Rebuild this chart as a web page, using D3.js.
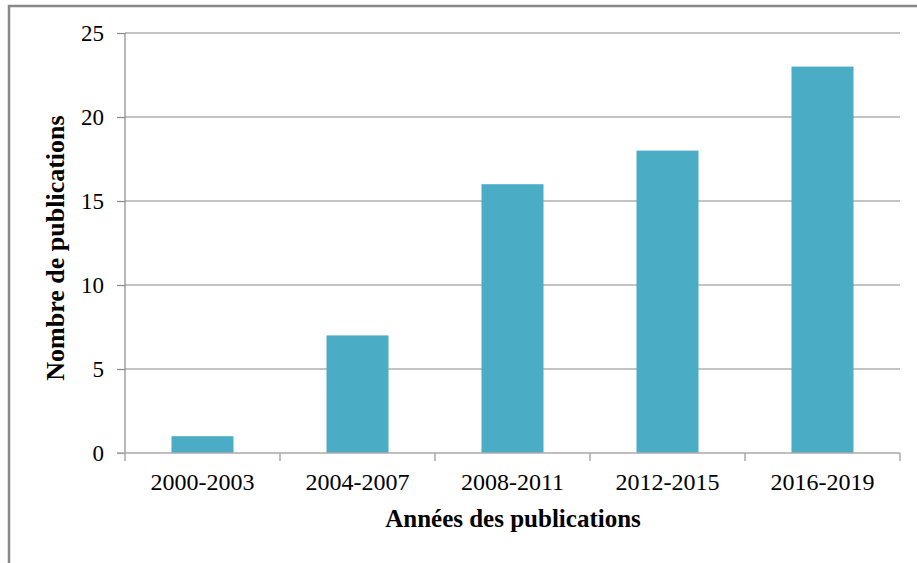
<!DOCTYPE html>
<html><head><meta charset="utf-8">
<script src="https://cdn.jsdelivr.net/npm/d3@7"></script>
<style>body{margin:0;background:#fff}svg{display:block}
svg text{font-family:"Liberation Serif","Times New Roman",Times,serif !important;}</style>
</head><body>
<script>
const categories = ["2000-2003","2004-2007","2008-2011","2012-2015","2016-2019"];
const values = [1, 7, 16, 18, 23];
const yTicks = [0, 5, 10, 15, 20, 25];
const xTitle = "Années des publications";
const yTitle = "Nombre de publications";

const W = 917, H = 563;
const m = {left:125, right:17, top:33, bottom:110};
const svg = d3.select("body").append("svg").attr("width", W).attr("height", H);
svg.append("rect").attr("width",W).attr("height",H).attr("fill","#fff");
svg.append("path").attr("d","M9,563V6H917").attr("fill","none").attr("stroke","#888").attr("stroke-width",2.5);

const x = d3.scaleBand().domain(categories).range([m.left, W - m.right]).paddingInner(0.6).paddingOuter(0.3);
const xOuter = d3.scaleBand().domain(categories).range([m.left, W - m.right]);
const y = d3.scaleLinear().domain([0,25]).range([H - m.bottom, m.top]);

svg.append("g").selectAll("line").data(yTicks.filter(d=>d>0)).join("line")
  .attr("x1", m.left).attr("x2", W - m.right)
  .attr("y1", d=>y(d)).attr("y2", d=>y(d)).attr("stroke","#888").attr("stroke-width",1.2);

const ya = svg.append("g").attr("transform",`translate(${m.left},0)`)
  .call(d3.axisLeft(y).tickValues(yTicks).tickSize(8).tickPadding(13));
ya.select(".domain").attr("stroke","#888").attr("stroke-width",1.2).attr("d",`M-0,${y(25)}V${y(0)}`);
ya.selectAll(".tick line").attr("stroke","#888").attr("stroke-width",1.2);
ya.selectAll("text").attr("font-size",23).attr("fill","#000");

svg.append("g").selectAll("rect").data(values).join("rect")
  .attr("x",(d,i)=>x(categories[i])).attr("width",x.bandwidth())
  .attr("y",d=>y(d)).attr("height",d=>y(0)-y(d)).attr("fill","#4BACC6");

const xa = svg.append("g").attr("transform",`translate(0,${y(0)})`)
  .call(d3.axisBottom(xOuter).tickSize(0).tickPadding(20));
xa.select(".domain").attr("stroke","#aaa").attr("stroke-width",1.5).attr("d",`M${m.left-8},0H${W-m.right}`);
xa.selectAll("text").attr("font-size",24).attr("fill","#000");
const edges = categories.map(c=>xOuter(c)).concat([W - m.right]);
svg.append("g").selectAll("line").data(edges).join("line")
  .attr("x1",d=>d).attr("x2",d=>d).attr("y1",y(0)).attr("y2",y(0)+8)
  .attr("stroke","#aaa").attr("stroke-width",1.5);

svg.append("text").attr("x",513).attr("y",527).attr("text-anchor","middle")
  .attr("font-weight","bold").attr("font-size",25).text(xTitle);
svg.append("text").attr("transform","translate(64,248) rotate(-90)").attr("text-anchor","middle")
  .attr("font-weight","bold").attr("font-size",26).text(yTitle);
</script>
</body></html>
